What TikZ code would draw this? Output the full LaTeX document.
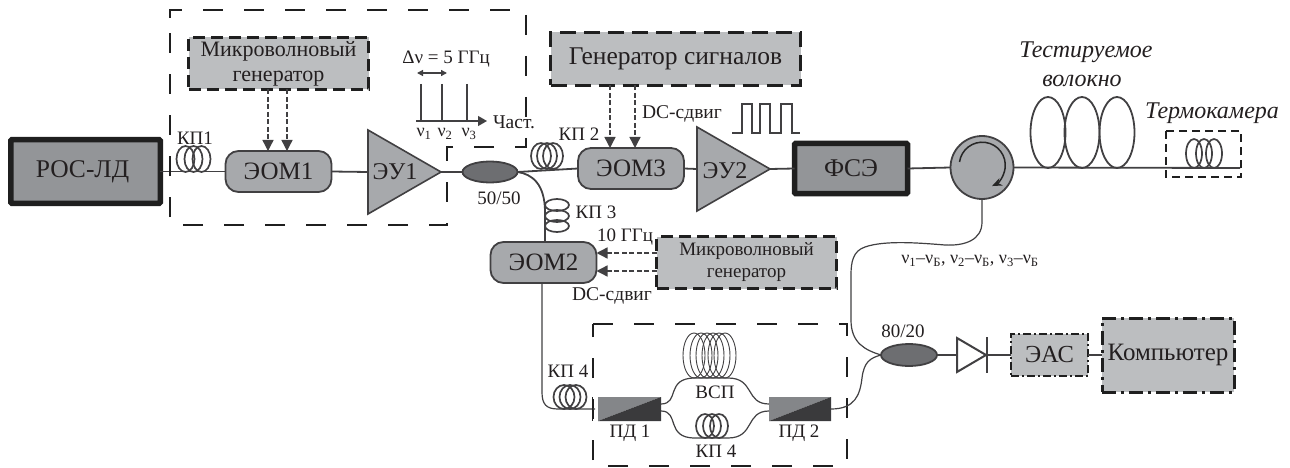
\documentclass[tikz,border=0pt]{standalone}
\usepackage{fontspec}
\setmainfont{Liberation Serif}
\usetikzlibrary{arrows.meta,calc,shapes.geometric}
\definecolor{boxlight}{HTML}{BCBEC0}
\definecolor{boxmid}{HTML}{A7A9AC}
\definecolor{boxdark}{HTML}{939598}
\definecolor{split}{HTML}{6D6E71}
\definecolor{ink}{HTML}{414042}
\definecolor{txt}{HTML}{231F20}
\definecolor{pdark}{HTML}{3A3A3C}
\newcommand{\fsz}[1]{\fontsize{#1}{#1}\selectfont}
\newcommand{\coil}[5]{% cx list, baseline y, rx, ry, lw
  \foreach \cx in {#1} \draw[ink,line width=#5] (\cx,#2-#4) ellipse [x radius=#3,y radius=#4];}
\tikzset{
  x=1pt,y=-1pt,
  every node/.style={text=txt,inner sep=0pt,outer sep=0pt,align=center},
  fibre/.style={ink,line width=1.8pt},
  thinfibre/.style={ink,line width=1.2pt},
  bigdash/.style={draw=black!88,line width=2.4pt,dash pattern=on 20pt off 21pt},
  genbox/.style={draw=black!88,fill=boxlight,line width=3pt,dash pattern=on 12pt off 6pt,minimum width=#1},
  solidbox/.style={draw=black!88,fill=boxdark,line width=5.5pt,rounded corners=1pt,minimum width=#1},
  eom/.style={draw=ink,fill=boxmid,line width=1.8pt,rounded corners=13pt,minimum width=106pt,minimum height=41pt},
  amp/.style={draw=ink,fill=boxmid,line width=1.6pt,line join=miter},
  coupler/.style={draw=ink,fill=split,line width=1.8pt,ellipse,minimum width=55pt,minimum height=21pt},
  sig/.style={ink,line width=1.4pt,dashed,dash pattern=on 5pt off 2.5pt},
  sighead/.style={-{Triangle[length=11pt,width=11pt,ink]},sig},
  lab/.style={font=\fsz{19}},
}
\begin{document}
\begin{tikzpicture}
\useasboundingbox (0,0) rectangle (1290,468);

% main components
\node[solidbox=149.5pt,minimum height=63.5pt,font=\fsz{25.5}] (ros) at (85.5,171.5) {РОС-ЛД\hspace*{6pt}};
\node[eom,font=\fsz{25}] (eom1) at (278.5,171.5) {ЭОМ1};
\coordinate (eu1in) at (368,172);
\coordinate (eu1tip) at (441,172);
\node[coupler] (c50) at (490,172) {};
\node[eom,font=\fsz{25}] (eom3) at (631,168.5) {ЭОМ3};
\coordinate (eu2in) at (697,169);
\coordinate (eu2tip) at (770,169);
\node[solidbox=113pt,minimum height=50pt,font=\fsz{25.5}] (fse) at (851,168.5) {ФСЭ};
\node[circle,draw=ink,fill=boxmid,line width=1.8pt,minimum size=63pt] (circ) at (982,167.5) {};
\coordinate (fibreend) at (1240,168);
\node[eom,font=\fsz{25}] (eom2) at (543.5,262.5) {ЭОМ2};

\draw[fibre] (ros.east) -- (eom1.west);
\draw[fibre] (eom1.east) -- (eu1in);
\draw[fibre] (eu1tip) -- (c50.west);
\draw[fibre] (c50.east) -- (eom3.west);
\draw[fibre] (eom3.east) -- (eu2in);
\draw[fibre] (eu2tip) -- (fse.west);
\draw[fibre] (fse.east) -- (circ.west);
\draw[fibre] (circ.east) -- (fibreend);
\draw[fibre] (c50.east) .. controls (532,174) and (545,184) .. (545,212) -- (eom2.north -| 545,0);

% amplifiers
\draw[amp] (368,130) -- (441,172) -- (368,214) -- cycle;
\node[font=\fsz{24}] (eu1) at (395,172) {ЭУ1};
\draw[amp] (697,127) -- (770,169) -- (697,211) -- cycle;
\node[font=\fsz{24}] (eu2) at (725,171) {ЭУ2};

% big dashed enclosures
\draw[bigdash] (170,18) |- (526,10) -- (526,147) -- (447,147) -- (447,225) -- (170,225) -- cycle;
\draw[bigdash] (593,324) -- (847,324) -- (847,466) -- (593,466) -- cycle;

% generators
\node[genbox=180pt,minimum height=52pt,font=\fsz{22}] (mw1) at (278.5,63.5) {Микроволновый\\[3pt]генератор};
\node[genbox=250pt,minimum height=53pt,line width=3.5pt,dash pattern=on 16pt off 8pt,font=\fsz{25.5}] (gen) at (675.5,59) {Генератор сигналов};
\node[genbox=180pt,minimum height=52pt,font=\fsz{19}] (mw2) at (746.5,262.5) {Микроволновый\\[3pt]генератор};

% signal arrows
\draw[sighead] (mw1.south -| 268,0) -- (eom1.north -| 268,0);
\draw[sighead] (mw1.south -| 287,0) -- (eom1.north -| 287,0);
\draw[sighead] (gen.south -| 610,0) -- (eom3.north -| 610,0);
\draw[sighead] (gen.south -| 635,0) -- (eom3.north -| 635,0);
\draw[sighead] (mw2.west |- 0,253) -- (eom2.east |- 0,253);
\draw[sighead] (mw2.west |- 0,271) -- (eom2.east |- 0,271);

% polarization controllers and coils
\coil{185.5,193.5,201.5}{172}{9}{13}{1.7pt}
\node[lab] (kp1) at (195,138) {КП1};
\coil{541,547,553}{169}{10}{13}{1.7pt}
\node[lab] (kp2) at (579,134) {КП 2};
\foreach \yy in {205,216,226} \draw[ink,line width=1.7pt] (557,\yy) ellipse [x radius=12,y radius=6];
\node[lab] (kp3) at (596,212) {КП 3};
\coil{1048,1082,1117}{168}{17.5}{35.5}{1.8pt}
\coil{1194,1204,1214}{168}{8}{14.5}{1.7pt}

% thermo chamber
\draw[draw=black!88,line width=1.6pt,dash pattern=on 8pt off 5pt] (1166,131) rectangle (1241,177);
\node[font=\fsz{24}\itshape] (thermo) at (1212,113) {Термокамера};
\node[font=\fsz{24}\itshape] (tested) at (1086,52) {Тестируемое};
\node[font=\fsz{24}\itshape] (volokno) at (1082,81) {волокно};

% circulator arrow
\draw[black!85,line width=1.5pt,-{Stealth[length=10pt,width=8pt]}] (959.5,162) arc[start angle=-172,end angle=65,radius=23];

% spectrum
\coordinate (sp0) at (416,121);
\coordinate (sp1) at (487,121);
\draw[ink,line width=1.3pt,-{Triangle[length=9pt,width=10pt,ink]}] (sp0) -- (sp1);
\foreach \bx in {421,442,467} \draw[ink,line width=2.2pt] (\bx,84) -- (\bx,121);
\draw[ink,line width=1.3pt,{Triangle[length=6pt,width=6pt,ink]}-{Triangle[length=6pt,width=6pt,ink]}] (417,73) -- (447,73);
\node[font=\fsz{19}] (dnu) at (446,59) {Δν = 5 ГГц};
\node[font=\fsz{18}] (nu1) at (424,134) {ν\textsubscript{1}};
\node[font=\fsz{18}] (nu2) at (445,134) {ν\textsubscript{2}};
\node[font=\fsz{18}] (nu3) at (469,134) {ν\textsubscript{3}};
\node[font=\fsz{19.5}] (chast) at (514,122) {Част.};

% labels
\node[lab] (t5050) at (499,198) {50/50};
\node[font=\fsz{19.5}] (dc1) at (682,114) {DC-сдвиг};
\node[lab] (ghz) at (625,237) {10 ГГц};
\node[font=\fsz{19.5}] (dc2) at (612,296) {DC-сдвиг};

% square wave
\draw[ink,line width=1.1pt] (732,133) -- (742,133) -- (742,104) -- (752,104) -- (752,133) -- (760,133) -- (760,104) -- (770,104) -- (770,133) -- (781,133) -- (781,104) -- (792,104) -- (792,133) -- (800,133);

% lower branch
\coordinate (kp4end) at (595,409);
\draw[thinfibre] (eom2.south -| 542,0) -- (542,392) .. controls (542,404) and (546,409) .. (558,409) -- (kp4end);
\coil{564,570,576}{409}{10.5}{12}{1.7pt}
\draw[black!88,line width=1.6pt] (592.5,397) -- (592.5,421);
\node[lab] (kp4a) at (568,371) {КП 4};

% delay arms
\node[draw=none,minimum width=63pt,minimum height=24pt] (pd1) at (629.5,409) {};
\fill[boxdark!90!black] (pd1.south west) -- (pd1.north west) -- (pd1.north east) -- cycle;
\fill[pdark] (pd1.south west) -- (pd1.north east) -- (pd1.south east) -- cycle;
\node[draw=none,minimum width=62pt,minimum height=24pt] (pd2) at (800,409) {};
\fill[boxdark!90!black] (pd2.south west) -- (pd2.north west) -- (pd2.north east) -- cycle;
\fill[pdark] (pd2.south west) -- (pd2.north east) -- (pd2.south east) -- cycle;
\node[lab] (pd1t) at (630,433) {ПД 1};
\node[lab] (pd2t) at (799,433) {ПД 2};
\draw[thinfibre] (pd1.east |- 0,404) .. controls (680,404) and (665,378) .. (695,378) -- (728,378) .. controls (755,378) and (745,404) .. (pd2.west |- 0,404);
\draw[thinfibre] (pd1.east |- 0,411) .. controls (680,411) and (665,438) .. (695,438) -- (728,438) .. controls (755,438) and (745,411) .. (pd2.west |- 0,411);
\foreach \cx in {694,701,707,713,719,725} \draw[ink,line width=.9pt] (\cx,355.5) ellipse [x radius=11,y radius=22.5];
\node[lab] (vsp) at (715,392) {ВСП};
\coil{705,712,719}{438}{9}{12}{1.7pt}
\node[lab] (kp4b) at (716,451) {КП 4};

% detection
\node[coupler,minimum width=56pt,minimum height=22pt] (c80) at (909,355) {};
\node[lab] (t8020) at (903,331) {80/20};
\draw[thinfibre] (pd2.east) .. controls (855,409) and (860,395) .. (862,378) .. controls (864,362) and (870,358) .. (c80.west);
\draw[thinfibre] (circ.south) -- (982,222) .. controls (982,240) and (965,246) .. (945,245) .. controls (920,243) and (885,240) .. (865,247) .. controls (853,251) and (851,262) .. (851,275) -- (851,320) .. controls (851,343) and (865,350) .. (c80.west);
\node[font=\fsz{18}] (nus) at (970,261) {ν\textsubscript{1}–ν\textsubscript{Б}, ν\textsubscript{2}–ν\textsubscript{Б}, ν\textsubscript{3}–ν\textsubscript{Б}};
\coordinate (di) at (957,355);
\coordinate (dt) at (986,355);
\draw[ink,line width=1.6pt] (c80.east) -- (di);
\draw[ink,line width=2pt,line join=miter] (957,338) -- (dt) -- (957,372) -- cycle;
\draw[ink,line width=2pt] (987,337) -- (987,373);
\node[draw=black!88,fill=boxlight,line width=1.6pt,dash pattern=on 8pt off 3pt on 2pt off 3pt,minimum width=77pt,minimum height=42pt,font=\fsz{24.5}] (eas) at (1049.5,355) {ЭАС};
\node[draw=black!88,fill=boxlight,line width=3pt,dash pattern=on 14pt off 5pt on 3pt off 5pt,minimum width=132pt,minimum height=74pt,font=\fsz{25}] (pc) at (1168,355) {Компьютер};
\draw[ink,line width=1.4pt] (987,355) -- (eas.west);
\draw[ink,line width=1.4pt] (eas.east) -- (pc.west);
\end{tikzpicture}
\end{document}
